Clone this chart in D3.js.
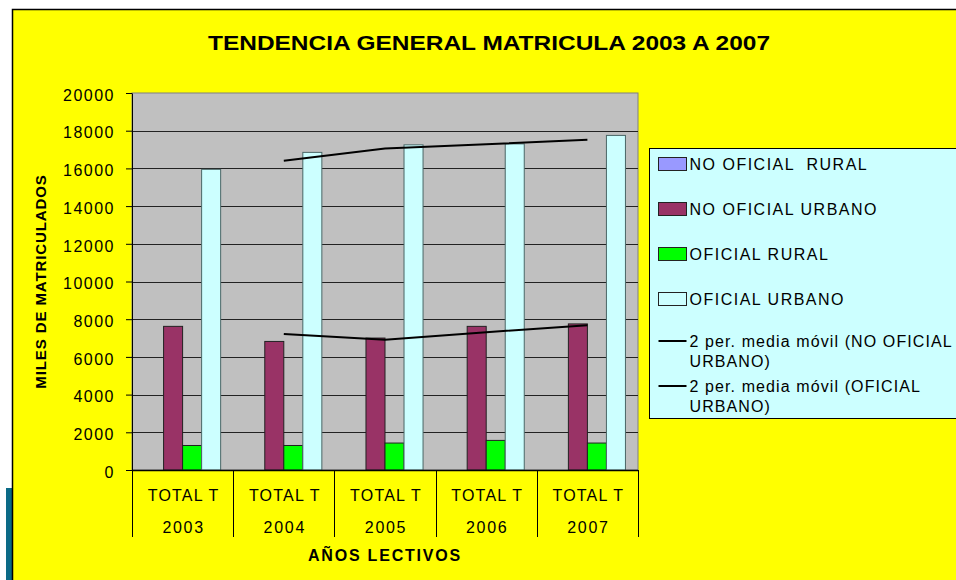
<!DOCTYPE html>
<html>
<head>
<meta charset="utf-8">
<script src="https://cdn.jsdelivr.net/npm/d3@7"></script>
<style>
  body { margin: 0; background: #fff; }
  text { font-family: "Liberation Sans", Arial, sans-serif; fill: #000; }
</style>
</head>
<body>
<svg id="chart" width="956" height="580"></svg>
<script>
// data
let years = ["2003", "2004", "2005", "2006", "2007"];
let seriesNames = ["NO OFICIAL  RURAL", "NO OFICIAL URBANO", "OFICIAL RURAL", "OFICIAL URBANO"];
let noOficialRural = [0, 0, 0, 0, 0];
let noOficialUrbano = [7620, 6820, 7000, 7620, 7750];
let oficialRural = [1300, 1300, 1430, 1570, 1430];
let oficialUrbano = [15950, 16850, 17250, 17300, 17750];
let yTicks = [0, 2000, 4000, 6000, 8000, 10000, 12000, 14000, 16000, 18000, 20000];
let maNames = ["2 per. media móvil (NO OFICIAL|URBANO)", "2 per. media móvil (OFICIAL|URBANO)"];

let colors = ["#9999FF", "#993366", "#00FF00", "#CCFFFF"];
let strokes = ["#222", "#222", "#222", "#4a6666"];

let svg = d3.select("#chart");

let plot = { left: 132, right: 638, top: 93, bottom: 470 };

// background frame
svg.append("rect").attr("x", 6).attr("y", 488).attr("width", 7).attr("height", 92).attr("fill", "#0b6a86");
svg.append("rect").attr("x", 12.5).attr("y", 9.5).attr("width", 960).attr("height", 600).
attr("fill", "#FFFF00").attr("stroke", "#000").attr("stroke-width", 1.5);

svg.append("text").
attr("x", 489).attr("y", 50).
attr("text-anchor", "middle").
attr("textLength", 562).attr("lengthAdjust", "spacingAndGlyphs").
style("font-size", "20px").style("font-weight", "bold").
text("TENDENCIA GENERAL MATRICULA 2003 A 2007");

let x0 = d3.scaleBand().domain(years).range([plot.left, plot.right]);
let x1 = d3.scaleBand().domain(d3.range(4)).range([0, x0.bandwidth()]).paddingInner(0).paddingOuter(0.66);
let y = d3.scaleLinear().domain([0, 20000]).range([plot.bottom, plot.top]);

// plot area
svg.append("rect").
attr("x", plot.left).attr("y", plot.top).
attr("width", plot.right - plot.left).attr("height", plot.bottom - plot.top).
attr("fill", "#C0C0C0").attr("stroke", "#808080").attr("stroke-width", 1);

svg.append("g").selectAll("line").
data(yTicks.filter(d => d > 0 && d < 20000)).
enter().append("line").
attr("x1", plot.left).attr("x2", plot.right).
attr("y1", d => Math.round(y(d)) + 0.5).attr("y2", d => Math.round(y(d)) + 0.5).
attr("stroke", "#222").attr("stroke-width", 1);

// bars
let table = years.map((yr, i) => ({
  year: yr,
  vals: [noOficialRural[i], noOficialUrbano[i], oficialRural[i], oficialUrbano[i]] }));

let group = svg.append("g").selectAll("g").
data(table).
enter().append("g").
attr("transform", d => "translate(" + x0(d.year) + ",0)");

group.selectAll("rect").
data(d => d.vals.map((v, k) => ({ k: k, v: v }))).
enter().append("rect").
filter(d => d.v > 0).
attr("x", d => x1(d.k)).
attr("y", d => y(d.v)).
attr("width", x1.bandwidth()).
attr("height", d => y(0) - y(d.v)).
attr("fill", d => colors[d.k]).
attr("stroke", d => strokes[d.k]).
attr("stroke-width", 1);

// 2-period moving averages
function movingAvg(arr) {
  return arr.slice(1).map((v, i) => ({ year: years[i + 1], v: (v + arr[i]) / 2 }));
}
let line = d3.line().
x(d => x0(d.year) + x0.bandwidth() / 2).
y(d => y(d.v));

[noOficialUrbano, oficialUrbano].forEach(arr => {
  svg.append("path").
  datum(movingAvg(arr)).
  attr("d", line).
  attr("fill", "none").
  attr("stroke", "#000").
  attr("stroke-width", 2);
});

// y axis
let yAxis = svg.append("g").
attr("transform", "translate(" + plot.left + ",0)").
call(d3.axisLeft(y).tickValues(yTicks).tickSize(6).tickSizeOuter(0).tickFormat(d3.format("d")));
yAxis.select(".domain").attr("stroke", "#000");
yAxis.selectAll(".tick line").attr("stroke", "#000");
yAxis.selectAll(".tick text").
attr("x", -17).attr("dy", "0.45em").
style("font-size", "16px").style("letter-spacing", "1.5px").
style("font-family", "'Liberation Sans', Arial, sans-serif");

svg.append("text").
attr("transform", "translate(46," + (plot.top + plot.bottom) / 2 + ") rotate(-90)").
attr("text-anchor", "middle").
style("font-size", "15px").style("font-weight", "bold").style("letter-spacing", "0.9px").
text("MILES DE MATRICULADOS");

// x axis with category boxes
svg.append("line").
attr("x1", plot.left).attr("x2", plot.right).
attr("y1", plot.bottom + 0.5).attr("y2", plot.bottom + 0.5).
attr("stroke", "#000").attr("stroke-width", 1.5);

let bounds = years.map(d => x0(d)).concat([x0.range()[1]]);
svg.append("g").selectAll("line").
data(bounds).
enter().append("line").
attr("x1", d => Math.round(d) + 0.5).attr("x2", d => Math.round(d) + 0.5).
attr("y1", plot.bottom).attr("y2", 537).
attr("stroke", "#000").attr("stroke-width", 1);

let xLab = svg.append("g").selectAll("g").
data(years).
enter().append("g").
attr("transform", d => "translate(" + (x0(d) + x0.bandwidth() / 2 + 1) + ",0)");
xLab.append("text").
attr("y", 501).attr("text-anchor", "middle").
style("font-size", "16px").style("letter-spacing", "1.2px").
text("TOTAL T");
xLab.append("text").
attr("y", 533).attr("text-anchor", "middle").
style("font-size", "16px").style("letter-spacing", "1.7px").
text(d => d);

svg.append("text").
attr("x", (plot.left + plot.right) / 2).attr("y", 561).
attr("text-anchor", "middle").
style("font-size", "16px").style("font-weight", "bold").style("letter-spacing", "1.8px").
text("AÑOS LECTIVOS");

// legend
let legend = svg.append("g").attr("transform", "translate(649.5,148.5)");
legend.append("rect").
attr("width", 320).attr("height", 270).
attr("fill", "#CCFFFF").attr("stroke", "#000").attr("stroke-width", 1);

let legItem = legend.selectAll("g.item").
data(seriesNames).
enter().append("g").
attr("class", "item").
attr("transform", (d, i) => "translate(9," + (9 + i * 45) + ")");
legItem.append("rect").
attr("width", 28).attr("height", 13).
attr("fill", (d, i) => colors[i]).
attr("stroke", "#222").attr("stroke-width", 1);
legItem.append("text").
attr("x", 31).attr("y", 12).
style("font-size", "16px").style("letter-spacing", "1.5px").
style("white-space", "pre").
text(d => d);

let legLine = legend.selectAll("g.ma").
data(maNames).
enter().append("g").
attr("class", "ma").
attr("transform", (d, i) => "translate(9," + (192.5 + i * 45) + ")");
legLine.append("line").
attr("x1", 0).attr("x2", 28).
attr("stroke", "#000").attr("stroke-width", 2);
legLine.append("text").
style("font-size", "16px").style("letter-spacing", "1.1px").
selectAll("tspan").
data(d => d.split("|")).
enter().append("tspan").
attr("x", 31).
attr("y", (d, i) => 6 + i * 20).
text(d => d);
</script>
</body>
</html>
